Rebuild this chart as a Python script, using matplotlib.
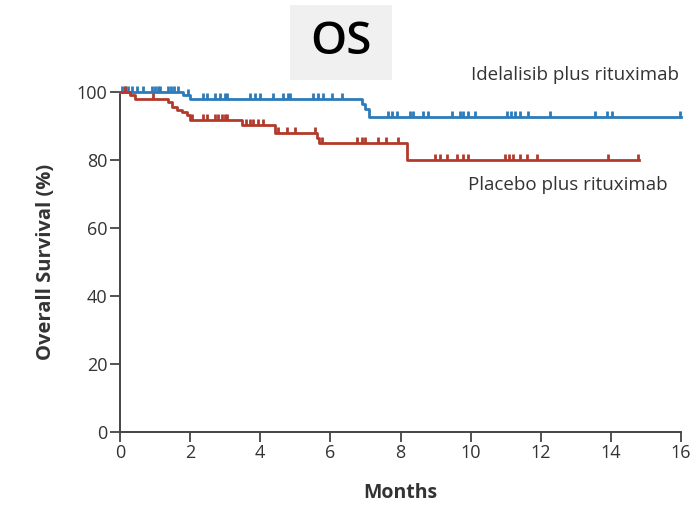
import numpy as np
import matplotlib.pyplot as plt
from matplotlib.patches import Rectangle
from matplotlib.path import Path

plt.rcParams['font.family'] = ['Open Sans', 'DejaVu Sans']

# Kaplan-Meier steps (months, % alive)
idela_times = [0, 1.8, 2.0, 6.9, 7.0, 7.1]
idela_surv = [100, 99, 98, 96.5, 95, 92.5]
idela_end = 16.0
idela_censor = [0.05, 0.14, 0.23, 0.33, 0.48, 0.66, 0.9, 1.0, 1.08, 1.14, 1.37, 1.45, 1.55, 1.65,
                1.94, 2.37, 2.48, 2.7, 2.85, 3.0, 3.05, 3.7, 3.85, 4.0, 4.36, 4.65, 4.8, 4.85,
                5.5, 5.65, 5.8, 6.05, 6.33, 7.64, 7.76, 7.9, 8.27, 8.36, 8.64, 8.78, 9.47, 9.7,
                9.78, 9.93, 10.13, 11.04, 11.15, 11.27, 11.41, 11.64, 12.26, 13.55, 13.9, 14.03, 15.97]

placebo_times = [0, 0.29, 0.43, 1.37, 1.47, 1.62, 1.77, 1.9, 2.0, 3.48, 4.42, 5.62, 5.68, 8.18]
placebo_surv = [100, 99, 98, 97, 95.6, 94.7, 94, 93.2, 91.8, 90.3, 88, 86.5, 85, 80]
placebo_end = 14.8
placebo_censor = [0.14, 0.94, 2.05, 2.37, 2.48, 2.7, 2.8, 2.9, 3.0, 3.05, 3.6, 3.7, 3.8, 3.94,
                  4.08, 4.5, 4.76, 5.0, 5.56, 5.75, 6.76, 6.9, 6.99, 7.36, 7.6, 7.93, 8.98, 9.12,
                  9.33, 9.61, 9.78, 9.93, 10.98, 11.1, 11.2, 11.41, 11.6, 11.9, 13.92, 14.77]

x_ticks = [0, 2, 4, 6, 8, 10, 12, 14, 16]
y_ticks = [0, 20, 40, 60, 80, 100]

blue = '#2c7bbb'
red = '#b23a2c'
ink = '#333333'

# censor mark: short vertical stroke rising from the curve
tick_mark = Path([(0, 0), (0, 1)])

fig = plt.figure(figsize=(6.92, 5.05), dpi=100)
ax = fig.add_axes([120 / 692, 1 - 432 / 505, 561 / 692, 340 / 505])


def draw_km(times, surv, end, censor, color):
    t = np.append(times, end)
    s = np.append(surv, surv[-1])
    ax.step(t, s, where='post', color=color, lw=2.0, clip_on=False, zorder=3)
    idx = np.searchsorted(times, censor, side='right') - 1
    ax.plot(censor, np.asarray(surv)[idx], ls='none', marker=tick_mark, ms=8,
            mec=color, mew=2.0, clip_on=False, zorder=3)


draw_km(idela_times, idela_surv, idela_end, idela_censor, blue)
draw_km(placebo_times, placebo_surv, placebo_end, placebo_censor, red)

ax.set_xlim(0, 16)
ax.set_ylim(0, 100)
ax.set_xticks(x_ticks)
ax.set_yticks(y_ticks)
ax.tick_params(direction='out', length=7, width=1.3, color='#444444',
               labelsize=13, labelcolor=ink, pad=2)
for side in ['top', 'right']:
    ax.spines[side].set_visible(False)
for side in ['left', 'bottom']:
    ax.spines[side].set_linewidth(1.4)
    ax.spines[side].set_color('#444444')

ax.set_xlabel('Months', fontsize=14, fontweight='bold', color=ink, labelpad=15)
ax.set_ylabel('Overall Survival (%)', fontsize=14.5, fontweight='bold', color=ink, labelpad=15)

ax.text(12.98, 105, 'Idelalisib plus rituximab', ha='center', va='center',
        fontsize=13.5, color=ink, clip_on=False)
ax.text(12.78, 72.6, 'Placebo plus rituximab', ha='center', va='center',
        fontsize=13.5, color=ink, clip_on=False)

# title badge
fig.patches.append(Rectangle((290 / 692, 1 - 80 / 505), 102 / 692, 75 / 505,
                             transform=fig.transFigure, facecolor='#f0f0f0',
                             edgecolor='none', zorder=0))
fig.text(341 / 692, 1 - 43 / 505, 'OS', ha='center', va='center',
         fontsize=33, fontweight='semibold', color='black')

fig.savefig('out.png', dpi=100, facecolor='white')
